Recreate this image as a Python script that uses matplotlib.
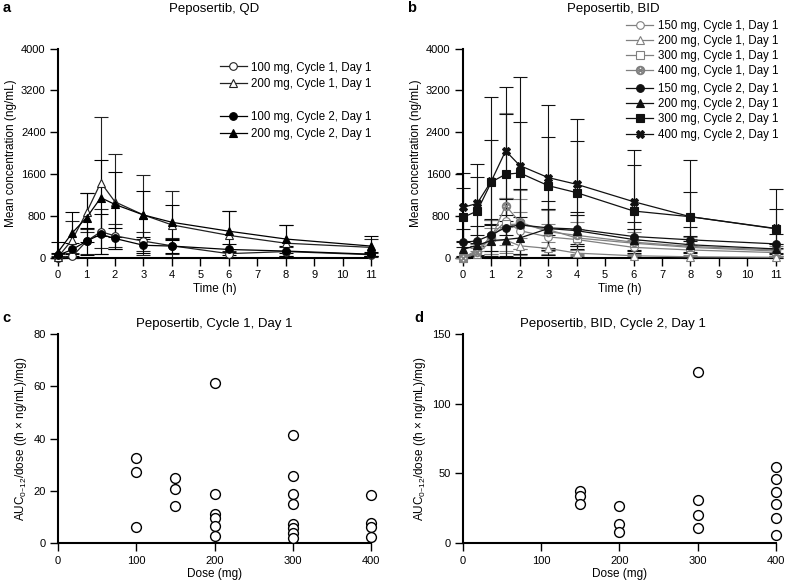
import numpy as np
import matplotlib.pyplot as plt

plt.rcParams['font.family'] = ['Liberation Sans', 'DejaVu Sans']
plt.rcParams['mathtext.default'] = 'regular'

t = [0, 0.5, 1, 1.5, 2, 3, 4, 6, 8, 11]

# panel a: QD (mean, SD)
qd100_c1 = [0, 30, 320, 500, 420, 320, 230, 80, 120, 60]
qd100_c1_sd = [30, 60, 240, 430, 220, 180, 150, 60, 80, 40]
qd200_c1 = [20, 350, 870, 1440, 1070, 820, 630, 430, 280, 200]
qd200_c1_sd = [50, 350, 370, 1260, 910, 760, 650, 470, 340, 160]
qd100_c2 = [50, 160, 320, 450, 370, 240, 225, 160, 130, 70]
qd100_c2_sd = [40, 120, 260, 380, 200, 150, 140, 110, 90, 40]
qd200_c2 = [115, 480, 770, 1150, 1020, 820, 680, 510, 360, 225]
qd200_c2_sd = [190, 400, 470, 730, 620, 460, 330, 390, 260, 185]

# panel b: BID (mean, SD)
bid150_c1 = [0, 100, 430, 700, 520, 400, 350, 200, 150, 100]
bid150_c1_sd = [20, 80, 300, 450, 350, 250, 200, 150, 100, 60]
bid200_c1 = [0, 80, 320, 340, 230, 180, 90, 40, 20, 10]
bid200_c1_sd = [20, 60, 250, 250, 150, 120, 60, 30, 20, 10]
bid300_c1 = [0, 150, 400, 640, 640, 540, 380, 280, 200, 130]
bid300_c1_sd = [20, 120, 330, 500, 480, 400, 300, 220, 160, 100]
bid400_c1 = [0, 120, 380, 1000, 680, 500, 430, 300, 220, 150]
bid400_c1_sd = [20, 100, 350, 1760, 620, 420, 380, 260, 180, 110]
bid150_c2 = [294, 326, 440, 580, 630, 573, 550, 408, 344, 267]
bid150_c2_sd = [250, 280, 300, 550, 680, 520, 330, 280, 240, 180]
bid200_c2 = [160, 240, 330, 350, 380, 560, 520, 350, 250, 170]
bid200_c2_sd = [150, 200, 300, 350, 400, 380, 300, 200, 160, 100]
bid300_c2 = [773, 895, 1450, 1598, 1623, 1380, 1246, 895, 786, 556]
bid300_c2_sd = [560, 660, 810, 1160, 980, 940, 980, 880, 470, 370]
bid400_c2 = [965, 1040, 1470, 2045, 1764, 1534, 1406, 1074, 786, 562]
bid400_c2_sd = [650, 760, 1610, 1230, 1700, 1390, 1240, 990, 1090, 760]

# panel c: AUC/dose, cycle 1 day 1
c_dose = [100, 100, 100, 150, 150, 150, 200, 200, 200, 200, 200, 200,
          300, 300, 300, 300, 300, 300, 300, 300, 400, 400, 400, 400]
c_auc = [32.5, 27.1, 6.2, 25.1, 20.9, 14.1, 61.1, 19.0, 11.0, 9.8, 6.6, 2.9,
         41.5, 25.7, 19.0, 15.0, 7.3, 5.7, 3.9, 1.9, 18.5, 7.8, 6.2, 2.2]

# panel d: AUC/dose, BID cycle 2 day 1
d_dose = [150, 150, 150, 200, 200, 200, 300, 300, 300, 300,
          400, 400, 400, 400, 400, 400]
d_auc = [37.1, 33.6, 28.3, 26.4, 13.8, 8.1, 122.9, 31.2, 20.2, 11.0,
         54.3, 45.7, 36.4, 28.3, 17.9, 6.0]


def style(ax):
    for s in ['top', 'right']:
        ax.spines[s].set_visible(False)
    for s in ['left', 'bottom']:
        ax.spines[s].set_linewidth(1.5)
    ax.tick_params(direction='out', length=6, width=1, labelsize=8, pad=3)


def series(ax, y, sd, marker, filled, color, label, ms=5.5):
    y = np.array(y, float)
    sd = np.array(sd, float)
    lo = np.minimum(sd, y)
    ax.errorbar(t, y, yerr=[lo, sd], fmt='none', ecolor=color, elinewidth=0.8,
                capsize=5, capthick=0.8, clip_on=False, zorder=2)
    h, = ax.plot(t, y, marker=marker, color=color, lw=0.9, ms=ms,
                 mfc=color if filled else 'white', mec=color, mew=0.8,
                 clip_on=False, zorder=3, label=label)
    return h


fig = plt.figure(figsize=(7.86, 5.86), dpi=100)
axa = fig.add_axes([0.074, 0.56, 0.398, 0.357])
axb = fig.add_axes([0.589, 0.56, 0.398, 0.357])
axc = fig.add_axes([0.074, 0.073, 0.398, 0.357])
axd = fig.add_axes([0.589, 0.073, 0.398, 0.357])

# a
h1 = series(axa, qd100_c1, qd100_c1_sd, 'o', False, '#222222', '100 mg, Cycle 1, Day 1')
h2 = series(axa, qd200_c1, qd200_c1_sd, '^', False, '#222222', '200 mg, Cycle 1, Day 1')
h3 = series(axa, qd100_c2, qd100_c2_sd, 'o', True, 'black', '100 mg, Cycle 2, Day 1')
h4 = series(axa, qd200_c2, qd200_c2_sd, '^', True, 'black', '200 mg, Cycle 2, Day 1')

# b
g = '#808080'
b1 = series(axb, bid150_c1, bid150_c1_sd, 'o', False, g, '150 mg, Cycle 1, Day 1')
b2 = series(axb, bid200_c1, bid200_c1_sd, '^', False, g, '200 mg, Cycle 1, Day 1')
b3 = series(axb, bid300_c1, bid300_c1_sd, 's', False, g, '300 mg, Cycle 1, Day 1')
b4 = series(axb, bid400_c1, bid400_c1_sd, r'$\otimes$', False, g, '400 mg, Cycle 1, Day 1', ms=6)
b5 = series(axb, bid150_c2, bid150_c2_sd, 'o', True, '#111111', '150 mg, Cycle 2, Day 1')
b6 = series(axb, bid200_c2, bid200_c2_sd, '^', True, '#111111', '200 mg, Cycle 2, Day 1')
b7 = series(axb, bid300_c2, bid300_c2_sd, 's', True, '#111111', '300 mg, Cycle 2, Day 1')
b8 = series(axb, bid400_c2, bid400_c2_sd, 'X', True, '#111111', '400 mg, Cycle 2, Day 1')

for ax in [axa, axb]:
    style(ax)
    ax.set_xlim(0, 11)
    ax.set_ylim(0, 4000)
    ax.set_xticks(range(12))
    ax.set_yticks([0, 800, 1600, 2400, 3200, 4000])
    ax.set_xlabel('Time (h)', fontsize=8.5, labelpad=2)
    ax.set_ylabel('Mean concentration (ng/mL)', fontsize=8.5, labelpad=3)

fig.text(0.272, 0.984, 'Peposertib, QD', ha='center', va='center', fontsize=9.5)
fig.text(0.78, 0.984, 'Peposertib, BID', ha='center', va='center', fontsize=9.5)

lk = dict(frameon=False, fontsize=8.3, handlelength=2.3, handletextpad=0.4,
          labelspacing=0.4, borderpad=0, borderaxespad=0, loc='upper left')
fig.legend([h1, h2], [h.get_label() for h in [h1, h2]],
           bbox_to_anchor=(0.28, 0.895), **lk)
fig.legend([h3, h4], [h.get_label() for h in [h3, h4]],
           bbox_to_anchor=(0.28, 0.810), **lk)
lk['labelspacing'] = 0.27
fig.legend([b1, b2, b3, b4], [h.get_label() for h in [b1, b2, b3, b4]],
           bbox_to_anchor=(0.797, 0.966), **lk)
fig.legend([b5, b6, b7, b8], [h.get_label() for h in [b5, b6, b7, b8]],
           bbox_to_anchor=(0.797, 0.858), **lk)

# c, d
auc_label = 'AUC$_{0\u201312}$/dose ((h \u00d7 ng/mL)/mg)'
axc.scatter(c_dose, c_auc, s=50, facecolors='white', edgecolors='black',
            linewidths=1, clip_on=False, zorder=3)
axc.set_ylim(0, 80)
axc.set_yticks([0, 20, 40, 60, 80])
axd.scatter(d_dose, d_auc, s=50, facecolors='white', edgecolors='black',
            linewidths=1, clip_on=False, zorder=3)
axd.set_ylim(0, 150)
axd.set_yticks([0, 50, 100, 150])
for ax in [axc, axd]:
    style(ax)
    ax.set_xlim(0, 400)
    ax.set_xticks([0, 100, 200, 300, 400])
    ax.set_xlabel('Dose (mg)', fontsize=8.5, labelpad=2)
    ax.set_ylabel(auc_label, fontsize=8.5, labelpad=3)

fig.text(0.272, 0.447, 'Peposertib, Cycle 1, Day 1', ha='center', va='center', fontsize=9.5)
fig.text(0.78, 0.447, 'Peposertib, BID, Cycle 2, Day 1', ha='center', va='center', fontsize=9.5)

for x, y, s in [(0.003, 0.986, 'a'), (0.518, 0.986, 'b'), (0.003, 0.457, 'c'), (0.527, 0.457, 'd')]:
    fig.text(x, y, s, fontsize=10.5, fontweight='bold', ha='left', va='center')

fig.savefig('out.png', dpi=100)
